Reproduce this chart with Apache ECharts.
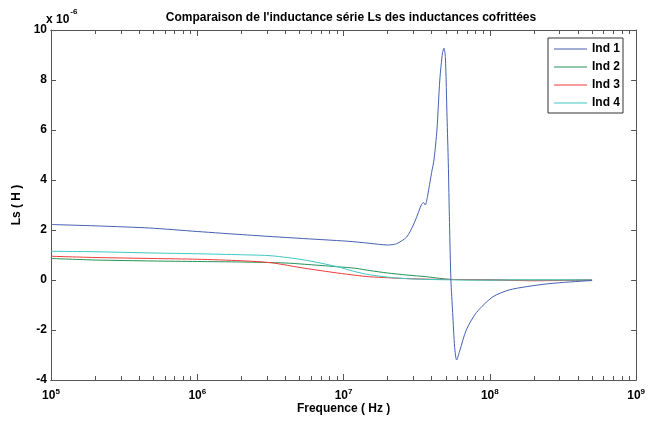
<!DOCTYPE html>
<html>
<head>
<meta charset="utf-8">
<script src="https://cdn.jsdelivr.net/npm/echarts@6/dist/echarts.min.js"></script>
<style>html,body{margin:0;padding:0;background:#fff}#c{width:648px;height:422px}</style>
</head>
<body>
<div id="c"></div>
<script>
// ---- data (frequency in Hz, Ls in units of 1e-6 H) ----
const freq1 = [1e5, 2.15e5, 4.7e5, 1e6, 2.2e6, 4.9e6, 1.07e7, 1.5e7, 2e7, 2.3e7, 2.7e7, 3.0e7, 3.2e7, 3.4e7, 3.52e7, 3.62e7, 3.75e7, 4.0e7, 4.15e7, 4.35e7, 4.55e7, 4.75e7, 4.86e7, 4.97e7, 5.1e7, 5.2e7, 5.3e7, 5.42e7, 5.57e7, 5.75e7, 5.93e7, 6.25e7, 6.9e7, 8.1e7, 1.05e8, 1.35e8, 1.77e8, 2.5e8, 3.5e8, 5e8];
const ind1  = [2.22, 2.16, 2.08, 1.94, 1.80, 1.67, 1.55, 1.47, 1.40, 1.45, 1.72, 2.2, 2.6, 3.0, 3.1, 3.0, 3.35, 4.3, 4.8, 6.0, 8.0, 9.1, 9.27, 8.9, 6.5, 4.7, 2.3, 0.0, -1.3, -2.7, -3.2, -2.8, -2.0, -1.3, -0.67, -0.4, -0.27, -0.15, -0.08, -0.02];

const freq2 = [1e5, 2e5, 5e5, 1e6, 2e6, 4e6, 5.4e6, 9.1e6, 1.2e7, 1.5e7, 2e7, 2.7e7, 3.7e7, 4.5e7, 5.5e7, 1e8, 2e8, 5e8];
const ind2  = [0.86, 0.80, 0.76, 0.74, 0.72, 0.68, 0.63, 0.53, 0.47, 0.38, 0.28, 0.20, 0.13, 0.07, 0.02, 0.0, 0.0, 0.0];

const freq3 = [1e5, 2e5, 5e5, 1e6, 2e6, 3.2e6, 5.4e6, 9.1e6, 1.2e7, 1.5e7, 2e7, 2.6e7, 4e7, 1e8, 1.5e8, 2e8, 3e8, 5e8];
const ind3  = [0.95, 0.90, 0.86, 0.83, 0.77, 0.69, 0.47, 0.28, 0.19, 0.13, 0.09, 0.06, 0.03, 0.01, -0.02, -0.03, -0.02, 0.0];

const freq4 = [1e5, 2e5, 5e5, 1e6, 2e6, 3.2e6, 5.4e6, 9.1e6, 1.17e7, 1.5e7, 2.2e7, 3e7, 5e7, 1e8, 5e8];
const ind4  = [1.15, 1.13, 1.08, 1.05, 1.01, 0.97, 0.80, 0.53, 0.35, 0.21, 0.09, 0.04, 0.01, 0.0, 0.0];

const seriesNames = ['Ind 1', 'Ind 2', 'Ind 3', 'Ind 4'];
const decadeExps = [5, 6, 7, 8, 9];
const minorMults = [2, 3, 4, 5, 6, 7, 8, 9];
const yTicks = [-4, -2, 0, 2, 4, 6, 8, 10];

// ---- build ----
const majorVals = decadeExps.map(e => Math.pow(10, e));
const minorVals = [];
decadeExps.slice(0, -1).forEach(e => minorMults.forEach(m => minorVals.push(m * Math.pow(10, e))));
const pair = (f, v) => f.map((x, i) => [x, v[i]]);
const colors = ['#4561b2', '#23935a', '#f03a3a', '#3ec8c4'];
const font = '"Liberation Sans", Arial, sans-serif';
const axisColor = '#555';

function xAx(pos, ticks, len, showLabel) {
  return {
    type: 'log', logBase: 10, min: 1e5, max: 1e9, position: pos, gridIndex: 0,
    axisLine: { show: true, onZero: false, lineStyle: { color: axisColor, width: 1 } },
    axisTick: { show: true, inside: true, length: len, customValues: ticks, lineStyle: { color: axisColor } },
    splitLine: { show: false },
    axisLabel: showLabel ? {
      show: true, customValues: majorVals, margin: 8,
      formatter: v => '{b|10}{s|' + Math.round(Math.log10(v)) + '}',
      rich: {
        b: { fontFamily: font, fontWeight: 'bold', fontSize: 12, color: '#000' },
        s: { fontFamily: font, fontWeight: 'bold', fontSize: 8, color: '#000', verticalAlign: 'top', padding: [0, 0, 8, 0] }
      }
    } : { show: false }
  };
}

const chart = echarts.init(document.getElementById('c'), null, { renderer: 'canvas' });
chart.setOption({
  animation: false,
  backgroundColor: '#fff',
  title: [
    { text: "Comparaison de l'inductance série Ls des inductances cofrittées", left: 346, top: 7, textAlign: 'center',
      textStyle: { fontFamily: font, fontWeight: 'bold', fontSize: 12, color: '#000' } },
    { text: '{a|x 10}{e|-6}', left: 41, top: 3,
      textStyle: { rich: {
        a: { fontFamily: font, fontWeight: 'bold', fontSize: 12, color: '#000', padding: [6, 0, 0, 0] },
        e: { fontFamily: font, fontWeight: 'bold', fontSize: 8, color: '#000', verticalAlign: 'top', padding: [0, 0, 0, 1] }
      } } }
  ],
  grid: { left: 51, right: 6, top: 30, bottom: 42, containLabel: false },
  legend: {
    data: seriesNames, orient: 'vertical', left: 548, top: 38, icon: 'rect',
    backgroundColor: '#fff', borderColor: '#333', borderWidth: 1, borderRadius: 0,
    padding: [4, 3, 3, 6], itemGap: 4, itemWidth: 33, itemHeight: 1,
    textStyle: { fontFamily: font, fontWeight: 'bold', fontSize: 12, color: '#000', lineHeight: 14 }
  },
  xAxis: [
    Object.assign(xAx('bottom', minorVals, 4, false), { name: 'Frequence ( Hz )', nameLocation: 'middle', nameGap: 23,
      nameTextStyle: { fontFamily: font, fontWeight: 'bold', fontSize: 12, color: '#000' } }),
    xAx('bottom', majorVals, 6, true),
    xAx('top', minorVals, 4, false),
    xAx('top', majorVals, 6, false)
  ],
  yAxis: [
    { type: 'value', min: -4, max: 10, interval: 2, position: 'left',
      name: 'Ls ( H )', nameLocation: 'middle', nameGap: 20, nameRotate: 90,
      nameTextStyle: { fontFamily: font, fontWeight: 'bold', fontSize: 12, color: '#000' },
      axisLine: { show: true, onZero: false, lineStyle: { color: axisColor } },
      axisTick: { show: true, inside: true, length: 5, lineStyle: { color: axisColor } },
      splitLine: { show: false },
      axisLabel: { margin: 4, fontFamily: font, fontWeight: 'bold', fontSize: 12, color: '#000',
        formatter: v => yTicks.indexOf(v) >= 0 ? String(v) : '' } },
    { type: 'value', min: -4, max: 10, interval: 2, position: 'right',
      axisLine: { show: true, onZero: false, lineStyle: { color: axisColor } },
      axisTick: { show: true, inside: true, length: 5, lineStyle: { color: axisColor } },
      splitLine: { show: false }, axisLabel: { show: false } }
  ],
  series: [
    { name: seriesNames[0], data: pair(freq1, ind1) },
    { name: seriesNames[1], data: pair(freq2, ind2) },
    { name: seriesNames[2], data: pair(freq3, ind3) },
    { name: seriesNames[3], data: pair(freq4, ind4) }
  ].map((s, i) => Object.assign(s, {
    type: 'line', xAxisIndex: 1, yAxisIndex: 0, symbol: 'none', showSymbol: false,
    smooth: 0.25, z: i === 0 ? 3 : 2,
    lineStyle: { color: colors[i], width: 1 }, itemStyle: { color: colors[i] }
  }))
});
</script>
</body>
</html>
